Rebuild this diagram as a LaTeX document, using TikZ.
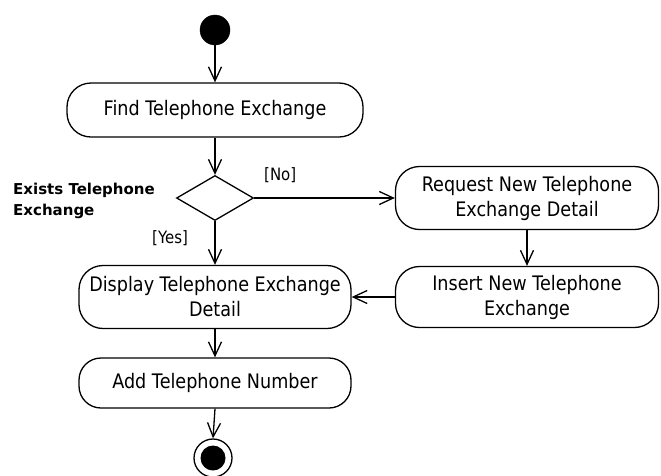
\documentclass[tikz,border=0pt]{standalone}
\usepackage{fontspec}
\setmainfont{DejaVu Sans}[FakeStretch=0.88]
\newfontfamily\lblfont{DejaVu Sans}
\usetikzlibrary{shapes.geometric,arrows.meta}
\begin{document}
\begin{tikzpicture}[x=1pt,y=-1pt,
  act/.style={draw, line width=1.3pt, rounded corners=24pt, align=center, inner sep=0pt, font=\fontsize{20}{25}\selectfont},
  flow/.style={draw, line width=1.3pt, -{Straight Barb[length=14pt,width=13pt,line width=1.3pt]}},
  lbl/.style={font=\fontsize{17}{21}\selectfont, inner sep=0pt}
]
\useasboundingbox[fill=white] (0,0) rectangle (661,475);

\node[circle, fill=black, draw, minimum size=30pt, inner sep=0pt] (start) at (215,30) {};
\node[act, minimum width=296pt, minimum height=54pt] (find) at (215,110) {Find Telephone Exchange};
\node[diamond, draw, line width=1.3pt, inner sep=0pt, minimum width=77pt, minimum height=45pt] (dec) at (215,198) {};
\node[lbl, font=\lblfont\bfseries\fontsize{15}{21}\selectfont, align=left, anchor=north west] (exists) at (13,183) {Exists Telephone\\Exchange};
\node[lbl, anchor=base west] (no) at (264,180) {[No]};
\node[lbl, anchor=base west] (yes) at (152,243) {[Yes]};
\node[act, minimum width=263pt, minimum height=63pt] (req) at (527,198) {Request New Telephone\\Exchange Detail};
\node[act, minimum width=263pt, minimum height=61pt] (ins) at (527,297) {Insert New Telephone\\Exchange};
\node[act, minimum width=272pt, minimum height=63pt] (disp) at (215,297) {Display Telephone Exchange\\Detail};
\node[act, minimum width=272pt, minimum height=50pt, rounded corners=22pt] (add) at (215,383) {Add Telephone Number};
\node[circle, draw, line width=1.3pt, minimum size=38pt, inner sep=0pt] (final) at (213,458) {};
\node[circle, fill=black, minimum size=25pt, inner sep=0pt] (finalin) at (final) {};

\draw[flow] (start) -- (find);
\draw[flow] (find) -- (dec);
\draw[flow] (dec.east) -- (req.west);
\draw[flow] (dec.south) -- (disp.north);
\draw[flow] (req) -- (ins);
\draw[flow] (ins.west) -- (disp.east);
\draw[flow] (disp) -- (add);
\draw[flow] (add.south) -- (final.north);
\end{tikzpicture}
\end{document}
